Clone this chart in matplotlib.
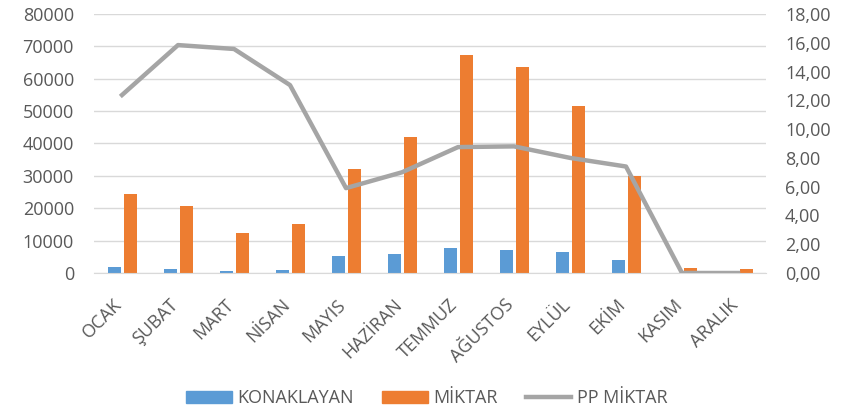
import matplotlib
matplotlib.use("Agg")
import matplotlib.pyplot as plt
import numpy as np
from matplotlib.lines import Line2D
from matplotlib.patches import Patch
from matplotlib.transforms import ScaledTranslation

plt.rcParams['font.family'] = ['Open Sans', 'DejaVu Sans']

months = ["OCAK", "ŞUBAT", "MART", "NİSAN", "MAYIS", "HAZİRAN", "TEMMUZ",
          "AĞUSTOS", "EYLÜL", "EKİM", "KASIM", "ARALIK"]
konaklayan = [1900, 1300, 700, 1000, 5200, 5900, 7700, 7100, 6500, 4000, 0, 0]
miktar = [24300, 20600, 12500, 15000, 32000, 42000, 67200, 63600, 51600, 30000, 1500, 1300]
pp_miktar = [12.37, 15.84, 15.57, 13.06, 5.90, 7.00, 8.75, 8.80, 8.00, 7.40, 0.0, 0.0]

txt = '#595959'
fs = 13
fig = plt.figure(figsize=(8.54, 4.13), dpi=100)
ax = fig.add_axes([94/854, 1-273/413, 672/854, 259/413])
x = np.arange(len(months))
w = 0.23
ax.bar(x - 0.14, konaklayan, w, color='#5B9BD5', zorder=2)
ax.bar(x + 0.145, miktar, w, color='#ED7D31', zorder=2)
ax.set_ylim(0, 80000)
ax.set_yticks(np.arange(0, 80001, 10000))
ax.set_xlim(-0.5, len(months) - 0.5)
ax.grid(axis='y', color='#D9D9D9', linewidth=1, zorder=0)
ax.set_axisbelow(True)
for s in ['top', 'right', 'left']:
    ax.spines[s].set_visible(False)
ax.spines['bottom'].set_color('#D9D9D9')
ax.tick_params(axis='both', length=0, labelsize=fs, colors=txt)
ax.tick_params(axis='y', pad=14.4)
ax.tick_params(axis='x', pad=21)
ax.set_xticks(x)
ax.set_xticklabels(months, rotation=45, ha='right', va='center', rotation_mode='anchor')
offset = ScaledTranslation(-3/100, 0, fig.dpi_scale_trans)
for lab in ax.get_xticklabels():
    lab.set_transform(lab.get_transform() + offset)

ax2 = ax.twinx()
ax2.plot(x, pp_miktar, color='#A5A5A5', linewidth=3.2, zorder=3)
ax2.set_ylim(0, 18)
ax2.set_yticks(np.arange(0, 18.01, 2))
ax2.set_yticklabels([f"{v:.2f}".replace('.', ',') for v in np.arange(0, 18.01, 2)])
for s in ['top', 'right', 'left', 'bottom']:
    ax2.spines[s].set_visible(False)
ax2.tick_params(axis='y', length=0, labelsize=fs, colors=txt, pad=13.7)

handles = [Patch(color='#5B9BD5'), Patch(color='#ED7D31'),
           Line2D([0], [0], color='#A5A5A5', linewidth=3.2)]
fig.legend(handles, ['KONAKLAYAN', 'MİKTAR', 'PP MİKTAR'], loc='center',
           bbox_to_anchor=(0.5, 1-398/413), ncol=3, frameon=False,
           fontsize=fs, labelcolor=txt, handlelength=2.5, handleheight=0.67,
           columnspacing=1.6, handletextpad=0.3)
fig.savefig('out.png', dpi=100)
